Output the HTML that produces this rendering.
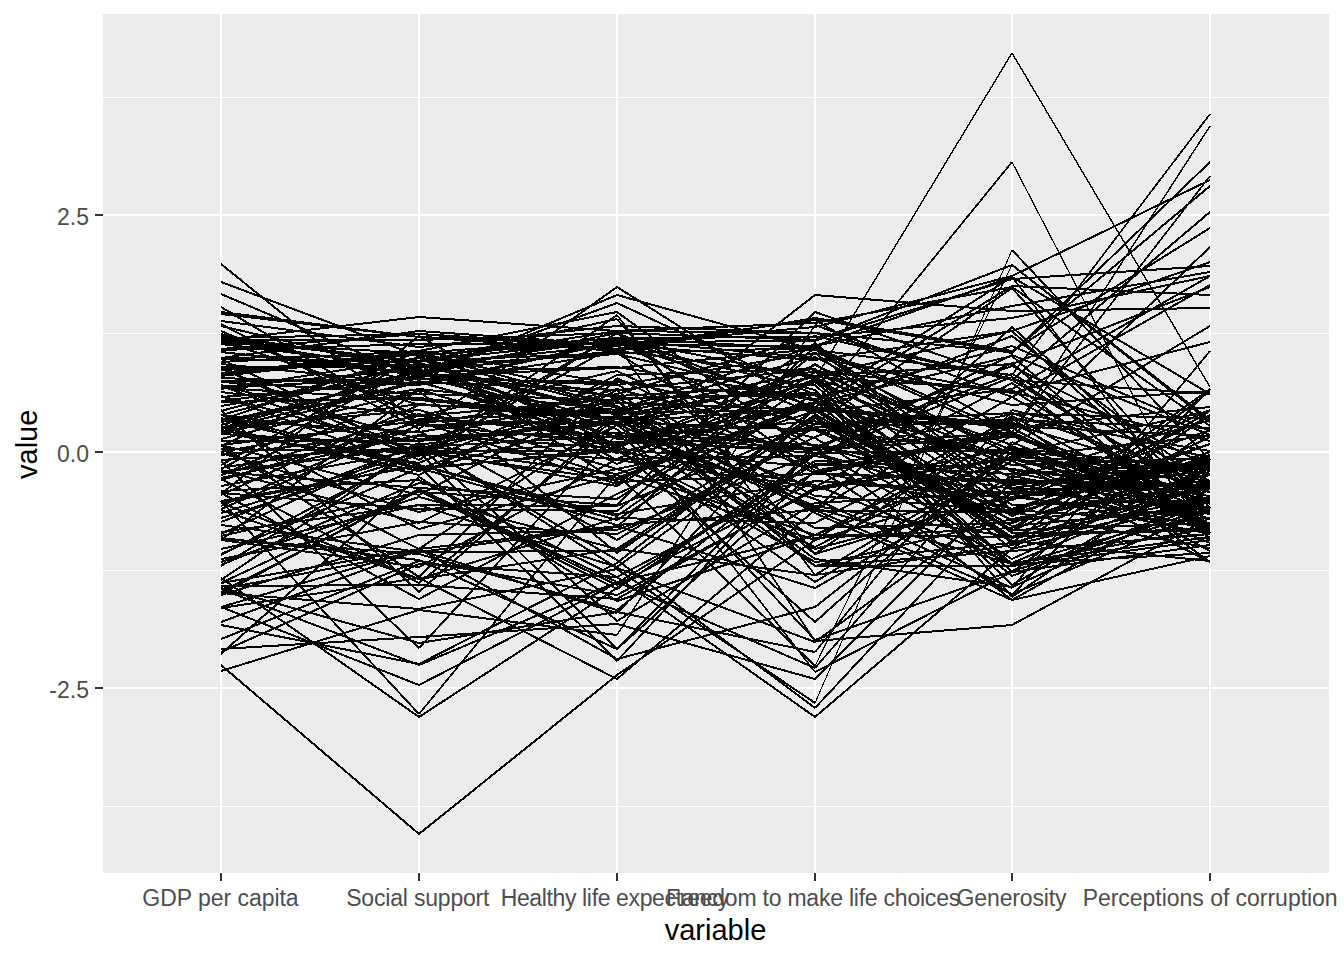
<!DOCTYPE html>
<html><head><meta charset="utf-8"><style>
html,body{margin:0;padding:0;background:#fff;}
svg{display:block;}
text{font-family:"Liberation Sans",sans-serif;}
</style></head><body>
<svg width="1344" height="960" viewBox="0 0 1344 960">
<rect x="0" y="0" width="1344" height="960" fill="#ffffff"/>
<rect x="103" y="14" width="1226" height="859" fill="#EBEBEB"/>
<g fill="#ffffff" shape-rendering="crispEdges">
<rect x="103" y="97" width="1226" height="1"/>
<rect x="103" y="333" width="1226" height="1"/>
<rect x="103" y="570" width="1226" height="1"/>
<rect x="103" y="806" width="1226" height="1"/>
<rect x="103" y="214" width="1226" height="2"/>
<rect x="103" y="451" width="1226" height="2"/>
<rect x="103" y="687" width="1226" height="2"/>
<rect x="220" y="14" width="2" height="859"/>
<rect x="418" y="14" width="2" height="859"/>
<rect x="616" y="14" width="2" height="859"/>
<rect x="814" y="14" width="2" height="859"/>
<rect x="1011" y="14" width="2" height="859"/>
<rect x="1209" y="14" width="2" height="859"/>
</g>
<path fill="#000" shape-rendering="crispEdges" d="M221 347.997 419 332.997 419 335.003 221 350.003ZM419 332.998 617 344.998 617 347.002 419 335.002ZM617 344.991 815 318.991 815 321.009 617 347.009ZM815 318.85 1012 430.85 1012 433.15 815 321.15ZM1208.93 176 1211.07 176 1013.07 432 1010.93 432ZM221 310.992 419 335.992 419 338.008 221 313.008ZM419 335.998 617 349.998 617 352.002 419 338.002ZM617 349.986 815 316.986 815 319.014 617 352.014ZM815 316.986 1012 349.986 1012 352.014 815 319.014ZM1012 349.823 1210 226.823 1210 229.177 1012 352.177ZM221 337 419 333 419 335 221 339ZM419 332.997 617 347.997 617 350.003 419 335.003ZM617 347.989 815 317.989 815 320.011 617 350.011ZM815 317.985 1012 351.985 1012 354.015 815 320.015ZM1012 351.611 1210 160.611 1210 163.389 1012 354.389ZM221 338.993 419 315.993 419 318.007 221 341.007ZM419 315.998 617 329.998 617 332.002 419 318.002ZM617 329.999 815 321.999 815 324.001 617 332.001ZM815 321.983 1012 285.983 1012 288.017 815 324.017ZM1012 285.778 1210 424.778 1210 427.222 1012 288.222ZM221 319.991 419 345.991 419 348.009 221 322.009ZM419 345.994 617 324.994 617 327.006 419 348.006ZM617 324.999 815 331.999 815 334.001 617 327.001ZM815 331.972 1012 378.972 1012 381.028 815 334.028ZM1012 378.689 1210 210.689 1210 213.311 1012 381.311ZM221 333.988 419 364.988 419 367.012 221 336.012ZM419 364.994 617 343.994 617 346.006 419 367.006ZM617 344 815 345 815 347 617 346ZM815 344.98 1012 304.98 1012 307.02 815 347.02ZM1012 304.985 1210 270.985 1210 273.015 1012 307.015ZM221 341.999 419 351.999 419 354.001 221 344.001ZM419 351.997 617 336.997 617 339.003 419 354.003ZM617 337 815 336 815 338 617 339ZM815 335.995 1012 316.995 1012 319.005 815 338.005ZM1012 316.978 1210 274.978 1210 277.022 1012 319.022ZM221 356.991 419 329.991 419 332.009 221 359.009ZM419 329.998 617 343.998 617 346.002 419 332.002ZM617 343.996 815 325.996 815 328.004 617 346.004ZM815 325.967 1012 274.967 1012 277.033 815 328.033ZM1012 274.889 1210 178.889 1210 181.111 1012 277.111ZM221 335.992 419 360.992 419 363.008 221 338.008ZM419 360.988 617 329.988 617 332.012 419 363.012ZM617 330 815 332 815 334 617 332ZM815 331.995 1012 350.995 1012 353.005 815 334.005ZM1012 350.695 1210 184.695 1210 187.305 1012 353.305ZM221 339 419 339 419 341 221 341ZM419 338.999 617 331.999 617 334.001 419 341.001ZM617 331.999 815 338.999 815 341.001 617 334.001ZM815 338.953 1012 277.953 1012 280.047 815 341.047ZM1012 277.998 1210 264.998 1210 267.002 1012 280.002ZM221 362.995 419 382.995 419 385.005 221 365.005ZM419 382.977 617 339.977 617 342.023 419 385.023ZM617 339.866 815 445.866 815 448.134 617 342.134ZM815 445.934 1012 372.934 1012 375.066 815 448.066ZM1012 372.863 1210 479.863 1210 482.137 1012 375.137ZM221 338.994 419 359.994 419 362.006 221 341.006ZM419 359.994 617 338.994 617 341.006 419 362.006ZM617 338.996 815 356.996 815 359.004 617 341.004ZM815 356.984 1012 391.984 1012 394.016 815 359.016ZM1012 391.967 1210 340.967 1210 343.033 1012 394.033ZM221 420.973 419 374.973 419 377.027 221 423.027ZM419 374.999 617 366.999 617 369.001 419 377.001ZM617 366.995 815 347.995 815 350.005 617 369.005ZM815 347.776 1012 486.776 1012 489.224 815 350.224ZM1012 486.992 1210 461.992 1210 464.008 1012 489.008ZM221 312.993 419 335.993 419 338.007 221 315.007ZM419 335.999 617 343.999 617 346.001 419 338.001ZM617 343.997 815 358.997 815 361.003 617 346.003ZM815 358.989 1012 329.989 1012 332.011 815 361.011ZM1012 329.941 1210 260.941 1210 263.059 1012 332.059ZM221 338.988 419 369.988 419 372.012 221 341.012ZM419 369.995 617 349.995 617 352.005 419 372.005ZM617 349.992 815 374.992 815 377.008 617 352.008ZM815 374.998 1012 362.998 1012 365.002 815 377.002ZM1012 362.927 1210 285.927 1210 288.073 1012 365.073ZM221 342.993 419 366.993 419 369.007 221 345.007ZM419 366.989 617 337.989 617 340.011 419 369.011ZM617 337.981 815 376.981 815 379.019 617 340.019ZM815 376.944 1012 443.944 1012 446.056 815 379.056ZM1012 443.833 1210 324.833 1210 327.167 1012 446.167ZM221 280.932 419 354.932 419 357.068 221 283.068ZM419 354.996 617 336.996 617 339.004 419 357.004ZM617 336.998 815 347.998 815 350.002 617 339.002ZM815 347.905 1012 435.905 1012 438.095 815 350.095ZM1012 435.614 1210 245.614 1210 248.386 1012 438.386ZM221 324.973 419 370.973 419 373.027 221 327.027ZM419 371 617 366 617 368 419 373ZM617 365.987 815 397.987 815 400.013 617 368.013ZM815 397.964 1012 344.964 1012 347.036 815 400.036ZM1012 344.912 1210 429.912 1210 432.088 1012 347.088ZM221 349 419 343 419 345 221 351ZM419 343 617 342 617 344 419 345ZM617 341.949 815 405.949 815 408.051 617 344.051ZM815 405.826 1012 284.826 1012 287.174 815 408.174ZM1012 284.999 1210 293.999 1210 296.001 1012 287.001ZM221 366 419 365 419 367 221 368ZM419 364.998 617 352.998 617 355.002 419 367.002ZM617 352.972 815 399.972 815 402.028 617 355.028ZM815 399.702 1012 562.702 1012 565.298 815 402.298ZM1012 562.984 1210 526.984 1210 529.016 1012 565.016ZM221 357 419 354 419 356 221 359ZM419 353.998 617 340.998 617 343.002 419 356.002ZM617 341 815 340 815 342 617 343ZM815 339.928 1012 263.928 1012 266.072 815 342.072ZM1012 263.724 1210 420.724 1210 423.276 1012 266.276ZM221 350.994 419 371.994 419 374.006 221 353.006ZM419 371.98 617 331.98 617 334.02 419 374.02ZM617 331.92 815 412.92 815 415.08 617 334.08ZM815 412.837 1012 529.837 1012 532.163 815 415.163ZM1012 529.769 1210 387.769 1210 390.231 1012 532.231ZM221 413.991 419 439.991 419 442.009 221 416.009ZM419 439.966 617 387.966 617 390.034 419 442.034ZM617 387.97 815 436.97 815 439.03 617 390.03ZM815 436.826 1012 557.826 1012 560.174 815 439.174ZM1012 557.899 1210 466.899 1210 469.101 1012 560.101ZM221 390.993 419 414.993 419 417.007 221 393.007ZM419 414.974 617 369.974 617 372.026 419 417.026ZM617 369.891 815 464.891 815 467.109 617 372.109ZM815 464.988 1012 434.988 1012 437.012 815 467.012ZM1012 434.946 1210 500.946 1210 503.054 1012 437.054ZM221 332.97 419 381.97 419 384.03 221 335.03ZM419 381.989 617 351.989 617 354.011 419 384.011ZM617 351.828 815 472.828 815 475.172 617 354.172ZM815 473 1012 479 1012 481 815 475ZM1012 479 1210 484 1210 486 1012 481ZM221 395.997 419 380.997 419 383.003 221 398.003ZM419 380.999 617 388.999 617 391.001 419 383.001ZM617 388.994 815 367.994 815 370.006 617 391.006ZM815 367.785 1012 503.785 1012 506.215 815 370.215ZM1012 504 1210 499 1210 501 1012 506ZM221 426.959 419 369.959 419 372.041 221 429.041ZM419 369.967 617 420.967 617 423.033 419 372.033ZM617 420.999 815 428.999 815 431.001 617 423.001ZM815 428.901 1012 518.901 1012 521.099 815 431.099ZM1012 518.974 1210 473.974 1210 476.026 1012 521.026ZM221 404.986 419 371.986 419 374.014 221 407.014ZM419 371.993 617 394.993 617 397.007 419 374.007ZM617 394.998 815 383.998 815 386.002 617 397.002ZM815 383.645 1012 563.645 1012 566.355 815 386.355ZM1012 563.961 1210 507.961 1210 510.039 1012 566.039ZM221 476.977 419 433.977 419 436.023 221 479.023ZM419 433.998 617 446.998 617 449.002 419 436.002ZM617 446.916 815 363.916 815 366.084 617 449.084ZM815 363.903 1012 452.903 1012 455.097 815 366.097ZM1012 452.982 1210 490.982 1210 493.018 1012 455.018ZM221 399.992 419 374.992 419 377.008 221 402.008ZM419 374.999 617 383.999 617 386.001 419 377.001ZM617 383.987 815 351.987 815 354.013 617 386.013ZM815 351.752 1012 498.752 1012 501.248 815 354.248ZM1012 498.902 1210 408.902 1210 411.098 1012 501.098ZM221 262.714 419 422.714 419 425.286 221 265.286ZM419 422.989 617 392.989 617 395.011 419 425.011ZM617 392.958 815 334.958 815 337.042 617 395.042ZM815 334.975 1012 378.975 1012 381.025 815 337.025ZM1012 378.998 1210 392.998 1210 395.002 1012 381.002ZM221 329.912 419 414.912 419 417.088 221 332.088ZM419 414.994 617 436.994 617 439.006 419 417.006ZM617 436.996 815 419.996 815 422.004 617 439.004ZM815 419.855 1012 529.855 1012 532.145 815 422.145ZM1012 529.893 1210 435.893 1210 438.107 1012 532.107ZM221 292.914 419 376.914 419 379.086 221 295.086ZM419 376.916 617 293.916 617 296.084 419 379.084ZM617 293.962 815 348.962 815 351.038 617 296.038ZM815 348.992 1012 373.992 1012 376.008 815 351.008ZM1208.96 114 1211.04 114 1013.04 375 1010.96 375ZM221 383.963 419 437.963 419 440.037 221 386.037ZM419 437.997 617 422.997 617 425.003 419 440.003ZM617 422.91 815 508.91 815 511.09 617 425.09ZM815 508.635 1012 325.635 1012 328.365 815 511.365ZM1012 325.659 1210 502.659 1210 505.341 1012 328.341ZM221 360.998 419 349.998 419 352.002 221 363.002ZM419 349.981 617 310.981 617 313.019 419 352.019ZM617 310.764 815 454.764 815 457.236 617 313.236ZM815 454.986 1012 487.986 1012 490.014 815 457.014ZM1012 488 1210 488 1210 490 1012 490ZM221 432.966 419 380.966 419 383.034 221 435.034ZM419 380.962 617 435.962 617 438.038 419 383.038ZM617 435.989 815 406.989 815 409.011 617 438.011ZM815 406.824 1012 528.824 1012 531.176 815 409.176ZM1012 528.999 1210 521.999 1210 524.001 1012 531.001ZM221 368 419 364 419 366 221 370ZM419 363.882 617 462.882 617 465.118 419 366.118ZM617 462.918 815 380.918 815 383.082 617 465.082ZM815 380.923 1012 459.923 1012 462.077 815 383.077ZM1012 459.918 1210 541.918 1210 544.082 1012 462.082ZM221 371.994 419 349.994 419 352.006 221 374.006ZM419 349.986 617 382.986 617 385.014 419 352.014ZM617 382.812 815 509.812 815 512.188 617 385.188ZM815 510 1012 511 1012 513 815 512ZM1012 510.984 1210 546.984 1210 549.016 1012 513.016ZM221 470.992 419 445.992 419 448.008 221 473.008ZM419 445.998 617 434.998 617 437.002 419 448.002ZM617 434.998 815 447.998 815 450.002 617 437.002ZM815 447.845 1012 561.845 1012 564.155 815 450.155ZM1012 561.918 1210 479.918 1210 482.082 1012 564.082ZM221 504.908 419 417.908 419 420.092 221 507.092ZM419 418 617 412 617 414 419 420ZM617 412 815 409 815 411 617 414ZM815 408.997 1012 424.997 1012 427.003 815 411.003ZM1012 424.999 1210 434.999 1210 437.001 1012 427.001ZM221 380 419 378 419 380 221 382ZM419 378 617 381 617 383 419 380ZM617 380.996 815 397.996 815 400.004 617 383.004ZM815 397.824 1012 519.824 1012 522.176 815 400.176ZM1012 519.994 1210 497.994 1210 500.006 1012 522.006ZM221 339.949 419 403.949 419 406.051 221 342.051ZM419 403.999 617 411.999 617 414.001 419 406.001ZM617 411.978 815 369.978 815 372.022 617 414.022ZM815 369.994 1012 390.994 1012 393.006 815 372.006ZM1012 390.97 1210 439.97 1210 442.03 1012 393.03ZM221 492.721 419 334.721 419 337.279 221 495.279ZM419 334.849 617 447.849 617 450.151 419 337.151ZM617 447.733 815 293.733 815 296.267 617 450.267ZM815 293.997 1012 309.997 1012 312.003 815 296.003ZM1012 310 1210 307 1210 309 1012 312ZM221 305.836 419 423.836 419 426.164 221 308.164ZM419 424 617 421 617 423 419 426ZM617 420.99 815 392.99 815 395.01 617 423.01ZM815 392.937 1012 463.937 1012 466.063 815 395.063ZM1012 463.999 1210 456.999 1210 459.001 1012 466.001ZM221 418.988 419 387.988 419 390.012 221 421.012ZM419 387.994 617 408.994 617 411.006 419 390.006ZM617 408.949 815 344.949 815 347.051 617 411.051ZM815 344.94 1012 275.94 1012 278.06 815 347.06ZM1010.93 277 1013.07 277 1211.07 533 1208.93 533ZM221 358 419 361 419 363 221 360ZM419 360.977 617 317.977 617 320.023 419 363.023ZM615.829 319 618.171 319 816.171 554 813.829 554ZM815 552.955 1012 492.955 1012 495.045 815 555.045ZM1012 492.98 1210 532.98 1210 535.02 1012 495.02ZM221 450.984 419 414.984 419 417.016 221 453.016ZM419 414.996 617 397.996 617 400.004 419 417.004ZM617 398 815 392 815 394 617 400ZM815 391.821 1012 514.821 1012 517.179 815 394.179ZM1012 514.936 1210 442.936 1210 445.064 1012 517.064ZM221 470.997 419 486.997 419 489.003 221 473.003ZM419 486.998 617 497.998 617 500.002 419 489.002ZM617 497.812 815 370.812 815 373.188 617 500.188ZM815 370.924 1012 448.924 1012 451.076 815 373.076ZM1012 448.993 1210 472.993 1210 475.007 1012 451.007ZM221 374.994 419 352.994 419 355.006 221 377.006ZM419 352.966 617 404.966 617 407.034 419 355.034ZM617 404.863 815 511.863 815 514.137 617 407.137ZM815 511.907 1012 598.907 1012 601.093 815 514.093ZM1012 598.976 1210 554.976 1210 557.024 1012 601.024ZM221 368.999 419 359.999 419 362.001 221 371.001ZM419 359.999 617 351.999 617 354.001 419 362.001ZM617 352 815 347 815 349 617 354ZM815 346.818 1012 470.818 1012 473.182 815 349.182ZM1012 470.98 1210 510.98 1210 513.02 1012 473.02ZM221 394.962 419 449.962 419 452.038 221 397.038ZM419 449.971 617 401.971 617 404.029 419 452.029ZM617 401.999 815 408.999 815 411.001 617 404.001ZM815 408.799 1012 539.799 1012 542.201 815 411.201ZM1012 539.995 1210 559.995 1210 562.005 1012 542.005ZM221 386.998 419 375.998 419 378.002 221 389.002ZM419 375.972 617 422.972 617 425.028 419 378.028ZM617 422.918 815 504.918 815 507.082 617 425.082ZM815 504.988 1012 535.988 1012 538.012 815 507.012ZM1012 535.98 1210 495.98 1210 498.02 1012 538.02ZM221 350.993 419 373.993 419 376.007 221 353.007ZM419 373.936 617 301.936 617 304.064 419 376.064ZM617 301.897 815 393.897 815 396.103 617 304.103ZM815 393.731 1012 547.731 1012 550.269 815 396.269ZM1012 547.793 1210 413.793 1210 416.207 1012 550.207ZM221 401 419 397 419 399 221 403ZM419 396.994 617 417.994 617 420.006 419 399.006ZM617 417.978 815 375.978 815 378.022 617 420.022ZM815 375.998 1012 388.998 1012 391.002 815 378.002ZM1012 388.823 1210 511.823 1210 514.177 1012 391.177ZM221 467.87 419 363.87 419 366.13 221 470.13ZM419 363.969 617 413.969 617 416.031 419 366.031ZM617 413.986 815 380.986 815 383.014 617 416.014ZM815 380.74 1012 531.74 1012 534.26 815 383.26ZM1012 532 1210 530 1210 532 1012 534ZM221 357.886 419 454.886 419 457.114 221 360.114ZM419 454.772 617 313.772 617 316.228 419 457.228ZM615.952 315 618.048 315 816.048 575 813.952 575ZM815 573.834 1012 455.834 1012 458.166 815 576.166ZM1012 455.962 1210 510.962 1210 513.038 1012 458.038ZM221 366.912 419 451.912 419 454.088 221 369.088ZM419 451.831 617 331.831 617 334.169 419 454.169ZM617 331.889 815 427.889 815 430.111 617 334.111ZM815 427.992 1012 452.992 1012 455.008 815 430.008ZM1012 452.977 1210 409.977 1210 412.023 1012 455.023ZM221 385.996 419 367.996 419 370.004 221 388.004ZM419 367.918 617 449.918 617 452.082 419 370.082ZM617 449.985 815 483.985 815 486.015 617 452.015ZM815 483.924 1012 561.924 1012 564.076 815 486.076ZM1012 561.991 1210 535.991 1210 538.009 1012 564.009ZM221 387.988 419 356.988 419 359.012 221 390.012ZM419 356.92 617 437.92 617 440.08 419 359.08ZM617 437.998 815 451.998 815 454.002 617 440.002ZM815 451.96 1012 507.96 1012 510.04 815 454.04ZM1012 507.947 1210 442.947 1210 445.053 1012 510.053ZM221 366.897 419 458.897 419 461.103 221 369.103ZM419 458.812 617 331.812 617 334.188 419 461.188ZM617 331.781 815 469.781 815 472.219 617 334.219ZM815 469.981 1012 430.981 1012 433.019 815 472.019ZM1012 430.891 1210 525.891 1210 528.109 1012 433.109ZM221 484.984 419 448.984 419 451.016 221 487.016ZM419 448.984 617 484.984 617 487.016 419 451.016ZM617 484.825 815 362.825 815 365.175 617 487.175ZM815 362.813 1012 488.813 1012 491.187 815 365.187ZM1012 488.995 1210 507.995 1210 510.005 1012 491.005ZM221 373.994 419 351.994 419 354.006 221 376.006ZM419 351.974 617 396.974 617 399.026 419 354.026ZM617 397 815 394 815 396 617 399ZM815 393.749 1012 541.749 1012 544.251 815 396.251ZM1012 541.739 1210 389.739 1210 392.261 1012 544.261ZM221 463.858 419 354.858 419 357.142 221 466.142ZM419 354.904 617 443.904 617 446.096 419 357.096ZM617 443.977 815 400.977 815 403.023 617 446.023ZM815 400.942 1012 468.942 1012 471.058 815 403.058ZM1012 468.995 1210 487.995 1210 490.005 1012 471.005ZM221 440 419 440 419 442 221 442ZM419 439.995 617 420.995 617 423.005 419 442.005ZM617 420.998 815 406.998 815 409.002 617 423.002ZM815 406.805 1012 535.805 1012 538.195 815 409.195ZM1012 535.999 1210 526.999 1210 529.001 1012 538.001ZM221 458.998 419 445.998 419 448.002 221 461.002ZM419 445.998 617 457.998 617 460.002 419 448.002ZM617 458 815 455 815 457 617 460ZM815 454.894 1012 361.894 1012 364.106 815 457.106ZM1012 361.662 1210 537.662 1210 540.338 1012 364.338ZM221 507.914 419 423.914 419 426.086 221 510.086ZM419 423.996 617 441.996 617 444.004 419 426.004ZM617 441.778 815 580.778 815 583.222 617 444.222ZM815 580.826 1012 459.826 1012 462.174 815 583.174ZM1012 459.877 1210 560.877 1210 563.123 1012 462.123ZM221 418.943 419 350.943 419 353.057 221 421.057ZM419 350.804 617 480.804 617 483.196 419 353.196ZM617 480.999 815 472.999 815 475.001 617 483.001ZM815 472.98 1012 432.98 1012 435.02 815 475.02ZM1012 432.899 1210 523.899 1210 526.101 1012 435.101ZM221 380.998 419 392.998 419 395.002 221 383.002ZM419 393 617 399 617 401 419 395ZM617 398.695 815 564.695 815 567.305 617 401.305ZM815 565 1012 565 1012 567 815 567ZM1012 564.991 1210 538.991 1210 541.009 1012 567.009ZM221 426.996 419 408.996 419 411.004 221 429.004ZM419 408.957 617 467.957 617 470.043 419 411.043ZM617 467.979 815 426.979 815 429.021 617 470.021ZM815 426.909 1012 512.909 1012 515.091 815 429.091ZM1012 512.884 1210 414.884 1210 417.116 1012 515.116ZM221 478.958 419 420.958 419 423.042 221 481.042ZM419 420.952 617 482.952 617 485.048 419 423.048ZM617 482.772 815 341.772 815 344.228 617 485.228ZM815 341.689 1012 508.689 1012 511.311 815 344.311ZM1012 508.967 1210 457.967 1210 460.033 1012 511.033ZM221 516.951 419 453.951 419 456.049 221 519.049ZM419 453.998 617 440.998 617 443.002 419 456.002ZM617 440.999 815 448.999 815 451.001 617 443.001ZM815 448.997 1012 434.997 1012 437.003 815 451.003ZM1012 434.965 1210 487.965 1210 490.035 1012 437.035ZM221 413.966 419 361.966 419 364.034 221 416.034ZM419 361.969 617 411.969 617 414.031 419 364.031ZM617 411.817 815 536.817 815 539.183 617 414.183ZM815 536.999 1012 526.999 1012 529.001 815 539.001ZM1012 526.838 1210 409.838 1210 412.162 1012 529.162ZM221 386.998 419 398.998 419 401.002 221 389.002ZM419 398.996 617 416.996 617 419.004 419 401.004ZM617 416.856 815 526.856 815 529.144 617 419.144ZM815 527 1012 522 1012 524 815 529ZM1012 521.943 1210 453.943 1210 456.057 1012 524.057ZM221 508.941 419 577.941 419 580.059 221 511.059ZM419 577.954 617 516.954 617 519.046 419 580.046ZM617 517 815 522 815 524 617 519ZM815 521.867 1012 416.867 1012 419.133 815 524.133ZM1012 416.986 1210 449.986 1210 452.014 1012 419.014ZM221 322.868 419 427.868 419 430.132 221 325.132ZM419 427.769 617 285.769 617 288.231 419 430.231ZM617 285.817 815 410.817 815 413.183 617 288.183ZM815 410.993 1012 387.993 1012 390.007 815 413.007ZM1012 387.849 1210 274.849 1210 277.151 1012 390.151ZM221 376.999 419 383.999 419 386.001 221 379.001ZM419 383.977 617 340.977 617 343.023 419 386.023ZM617 340.971 815 388.971 815 391.029 617 343.029ZM815 388.639 1012 570.639 1012 573.361 815 391.361ZM1012 570.991 1210 543.991 1210 546.009 1012 573.009ZM221 429.991 419 402.991 419 405.009 221 432.009ZM419 402.998 617 416.998 617 419.002 419 405.002ZM617 416.801 815 547.801 815 550.199 617 419.199ZM815 547.966 1012 495.966 1012 498.034 815 550.034ZM1012 495.994 1210 517.994 1210 520.006 1012 498.006ZM221 384.939 419 454.939 419 457.061 221 387.061ZM419 454.851 617 342.851 617 345.149 419 457.149ZM616.095 344 617.905 344 815.905 641 814.095 641ZM815 639.997 1012 623.997 1012 626.003 815 642.003ZM1012 623.863 1210 516.863 1210 519.137 1012 626.137ZM221 552.91 419 466.91 419 469.09 221 555.09ZM419 466.996 617 449.996 617 452.004 419 469.004ZM617 449.889 815 545.889 815 548.111 617 452.111ZM815 545.876 1012 444.876 1012 447.124 815 548.124ZM1012 444.918 1210 526.918 1210 529.082 1012 447.082ZM221 418.998 419 430.998 419 433.002 221 421.002ZM419 430.988 617 399.988 617 402.012 419 433.012ZM617 399.698 815 564.698 815 567.302 617 402.302ZM815 564.972 1012 517.972 1012 520.028 815 567.028ZM1012 517.983 1210 480.983 1210 483.017 1012 520.017ZM221 394.934 419 467.934 419 470.066 221 397.066ZM419 467.938 617 396.938 617 399.062 419 470.062ZM617 396.884 815 494.884 815 497.116 617 399.116ZM815 494.997 1012 508.997 1012 511.003 815 497.003ZM1012 508.998 1210 521.998 1210 524.002 1012 511.002ZM221 427.971 419 379.971 419 382.029 221 430.029ZM419 379.949 617 443.949 617 446.051 419 382.051ZM617 443.947 815 378.947 815 381.053 617 446.053ZM815 378.802 1012 508.802 1012 511.198 815 381.198ZM1012 508.966 1210 456.966 1210 459.034 1012 511.034ZM221 428.979 419 469.979 419 472.021 221 431.021ZM419 469.963 617 415.963 617 418.037 419 472.037ZM615.929 417 618.071 417 816.071 672 813.929 672ZM815 670.879 1012 570.879 1012 573.121 815 673.121ZM1012 570.766 1210 427.766 1210 430.234 1012 573.234ZM221 477.87 419 581.87 419 584.13 221 480.13ZM419 581.717 617 422.717 617 425.283 419 584.283ZM617 422.992 815 447.992 815 450.008 617 425.008ZM815 447.74 1012 598.74 1012 601.26 815 450.26ZM1012 598.854 1210 487.854 1210 490.146 1012 601.146ZM221 425.971 419 473.971 419 476.029 221 428.029ZM419 473.88 617 373.88 617 376.12 419 476.12ZM617 374 815 368 815 370 617 376ZM813.796 369 816.204 369 1013.2 597 1010.8 597ZM1012 595.787 1210 459.787 1210 462.213 1012 598.213ZM221 416.967 419 467.967 419 470.033 221 419.033ZM419 467.995 617 447.995 617 450.005 419 470.005ZM617 447.996 815 465.996 815 468.004 617 450.004ZM815 465.807 1012 593.807 1012 596.193 815 468.193ZM1208.65 389 1211.35 389 1013.35 595 1010.65 595ZM221 431.989 419 461.989 419 464.011 221 434.011ZM419 461.916 617 378.916 617 381.084 419 464.084ZM617 378.976 815 422.976 815 425.024 617 381.024ZM815 423 1012 419 1012 421 815 425ZM1012 418.999 1210 426.999 1210 429.001 1012 421.001ZM221 432.998 419 443.998 419 446.002 221 435.002ZM419 443.989 617 414.989 617 417.011 419 446.011ZM617 414.936 815 486.936 815 489.064 617 417.064ZM815 486.989 1012 457.989 1012 460.011 815 489.011ZM1012 457.966 1210 509.966 1210 512.034 1012 460.034ZM221 466.987 419 434.987 419 437.013 221 469.013ZM419 435 617 432 617 434 419 437ZM617 431.998 815 443.998 815 446.002 617 434.002ZM815 443.962 1012 498.962 1012 501.038 815 446.038ZM1012 498.939 1210 428.939 1210 431.061 1012 501.061ZM221 499.984 419 464.984 419 467.016 221 502.016ZM419 464.596 617 659.596 617 662.404 419 467.404ZM813.695 448 816.305 448 618.305 661 615.695 661ZM815 446.997 1012 430.997 1012 433.003 815 449.003ZM1012 430.884 1210 528.884 1210 531.116 1012 433.116ZM221 538.742 419 387.742 419 390.258 221 541.258ZM419 387.949 617 451.949 617 454.051 419 390.051ZM617 451.969 815 401.969 815 404.031 617 454.031ZM815 401.972 1012 354.972 1012 357.028 815 404.028ZM1012 354.679 1210 525.679 1210 528.321 1012 357.321ZM221 443.969 419 493.969 419 496.031 221 446.031ZM419 493.868 617 388.868 617 391.132 419 496.132ZM617 388.702 815 552.702 815 555.298 617 391.298ZM815 552.785 1012 416.785 1012 419.215 815 555.215ZM1012 416.764 1210 560.764 1210 563.236 1012 419.236ZM221 444.904 419 355.904 419 358.096 221 447.096ZM419 355.873 617 458.873 617 461.127 419 358.127ZM617 458.991 815 485.991 815 488.009 617 461.009ZM815 485.869 1012 381.869 1012 384.131 815 488.131ZM1012 381.755 1210 528.755 1210 531.245 1012 384.245ZM221 493.902 419 403.902 419 406.098 221 496.098ZM419 403.999 617 410.999 617 413.001 419 406.001ZM617 410.962 815 355.962 815 358.038 617 413.038ZM815 355.883 1012 453.883 1012 456.117 815 358.117ZM1012 453.989 1210 482.989 1210 485.011 1012 456.011ZM221 448 419 451 419 453 221 450ZM419 450.99 617 478.99 617 481.01 419 453.01ZM617 478.929 815 402.929 815 405.071 617 481.071ZM1010.87 162 1013.13 162 816.128 404 813.872 404ZM1011.31 162 1012.69 162 1210.69 544 1209.31 544ZM221 473.954 419 412.954 419 415.046 221 476.046ZM419 412.949 617 476.949 617 479.051 419 415.051ZM617 476.929 815 400.929 815 403.071 617 479.071ZM815 400.816 1012 275.816 1012 278.184 815 403.184ZM1012 275.838 1210 392.838 1210 395.162 1012 278.162ZM221 669.954 419 608.954 419 611.046 221 672.046ZM419 608.992 617 633.992 617 636.008 419 611.008ZM814.136 325 815.864 325 617.864 635 616.136 635ZM815 323.935 1012 395.935 1012 398.065 815 326.065ZM1012 395.851 1210 283.851 1210 286.149 1012 398.149ZM221 537.997 419 552.997 419 555.003 221 540.003ZM419 552.961 617 608.961 617 611.039 419 555.039ZM617 608.724 815 451.724 815 454.276 617 611.276ZM815 452 1012 449 1012 451 815 454ZM1012 448.941 1210 517.941 1210 520.059 1012 451.059ZM221 409.965 419 356.965 419 359.035 221 412.035ZM419 356.969 617 406.969 617 409.031 419 359.031ZM617 406.88 815 506.88 815 509.12 617 409.12ZM815 506.96 1012 562.96 1012 565.04 815 509.04ZM1012 562.998 1210 551.998 1210 554.002 1012 565.002ZM221 564.836 419 446.836 419 449.164 221 567.164ZM419 446.991 617 472.991 617 475.009 419 449.009ZM617 472.951 815 409.951 815 412.049 617 475.049ZM815 409.93 1012 334.93 1012 337.07 815 412.07ZM1012 334.748 1210 483.748 1210 486.252 1012 337.252ZM221 423.965 419 370.965 419 373.035 221 426.035ZM419 370.959 617 427.959 617 430.041 419 373.041ZM615.681 429 618.319 429 816.319 640 813.681 640ZM815 638.94 1012 569.94 1012 572.06 815 641.06ZM1012 569.955 1210 509.955 1210 512.045 1012 572.045ZM221 413.965 419 466.965 419 469.035 221 416.035ZM419 466.959 617 523.959 617 526.041 419 469.041ZM617 523.997 815 508.997 815 511.003 617 526.003ZM815 508.913 1012 592.913 1012 595.087 815 511.087ZM1012 592.916 1210 509.916 1210 512.084 1012 595.084ZM221 511.954 419 450.954 419 453.046 221 514.046ZM419 451 617 449 617 451 419 453ZM617 448.851 815 560.851 815 563.149 617 451.149ZM815 560.995 1012 541.995 1012 544.005 815 563.005ZM1012 541.961 1210 485.961 1210 488.039 1012 544.039ZM221 437.971 419 389.971 419 392.029 221 440.029ZM419 389.708 617 551.708 617 554.292 419 392.292ZM617 551.787 815 415.787 815 418.213 617 554.213ZM815 415.857 1012 524.857 1012 527.143 815 418.143ZM1012 524.995 1210 505.995 1210 508.005 1012 527.005ZM221 408.642 419 590.642 419 593.358 221 411.358ZM419 590.662 617 414.662 617 417.338 419 593.338ZM617 414.985 815 448.985 815 451.015 617 417.015ZM815 448.89 1012 353.89 1012 356.11 815 451.11ZM1012 353.921 1210 433.921 1210 436.079 1012 356.079ZM221 536.994 419 558.994 419 561.006 221 539.006ZM419 558.904 617 647.904 617 650.096 419 561.096ZM813.631 445 816.369 445 618.369 649 615.631 649ZM815 443.98 1012 483.98 1012 486.02 815 446.02ZM1012 483.993 1210 459.993 1210 462.007 1012 486.007ZM221 523.991 419 550.991 419 553.009 221 526.009ZM419 551 617 550 617 552 419 553ZM617 549.82 815 425.82 815 428.18 617 552.18ZM815 426 1012 421 1012 423 815 428ZM1012 420.854 1210 531.854 1210 534.146 1012 423.146ZM221 563.918 419 481.918 419 484.082 221 566.082ZM419 481.988 617 512.988 617 515.012 419 484.012ZM617 512.986 815 479.986 815 482.014 617 515.014ZM815 479.998 1012 491.998 1012 494.002 815 482.002ZM1012 491.998 1210 479.998 1210 482.002 1012 494.002ZM221 491.997 419 507.997 419 510.003 221 494.003ZM419 508 617 510 617 512 419 510ZM617 509.721 815 351.721 815 354.279 617 512.279ZM815 351.966 1012 403.966 1012 406.034 815 354.034ZM1012 403.998 1210 389.998 1210 392.002 1012 406.002ZM221 447.88 419 547.88 419 550.12 221 450.12ZM419 547.795 617 414.795 617 417.205 419 550.205ZM617 414.766 815 557.766 815 560.234 617 417.234ZM815 557.99 1012 585.99 1012 588.01 815 560.01ZM1012 585.908 1210 498.908 1210 501.092 1012 588.092ZM221 443.798 419 575.798 419 578.202 221 446.202ZM615.594 378 618.406 378 420.406 577 417.594 577ZM617 376.891 815 471.891 815 474.109 617 379.109ZM815 471.999 1012 480.999 1012 483.001 815 474.001ZM1012 480.971 1210 528.971 1210 531.029 1012 483.029ZM221 606.989 419 576.989 419 579.011 221 609.011ZM419 576.877 617 677.877 617 680.123 419 579.123ZM617 677.685 815 508.685 815 511.315 617 680.315ZM815 508.847 1012 395.847 1012 398.153 815 511.153ZM1012 395.849 1210 508.849 1210 511.151 1012 398.151ZM221 501.929 419 577.929 419 580.071 221 504.071ZM419 577.989 617 547.989 617 550.011 419 580.011ZM617 547.801 815 416.801 815 419.199 617 550.199ZM815 416.829 1012 536.829 1012 539.171 815 419.171ZM1012 536.966 1210 484.966 1210 487.034 1012 539.034ZM221 538.991 419 565.991 419 568.009 221 541.009ZM419 565.861 617 457.861 617 460.139 419 568.139ZM617 457.921 815 377.921 815 380.079 617 460.079ZM815 377.881 1012 476.881 1012 479.119 815 380.119ZM1012 476.958 1210 418.958 1210 421.042 1012 479.042ZM221 443.993 419 419.993 419 422.007 221 446.007ZM419 420 617 422 617 424 419 422ZM617 421.972 815 374.972 815 377.028 617 424.028ZM815 374.974 1012 329.974 1012 332.026 815 377.026ZM1012 329.642 1210 511.642 1210 514.358 1012 332.358ZM221 420.863 419 527.863 419 530.137 221 423.137ZM419 527.963 617 473.963 617 476.037 419 530.037ZM617 473.947 815 538.947 815 541.053 617 476.053ZM815 538.959 1012 481.959 1012 484.041 815 541.041ZM1012 481.997 1210 466.997 1210 469.003 1012 484.003ZM221 578.793 419 444.793 419 447.207 221 581.207ZM419 444.665 617 619.665 617 622.335 419 447.335ZM617 619.836 815 501.836 815 504.164 617 622.164ZM815 501.998 1012 490.998 1012 493.002 815 504.002ZM1012 490.997 1210 505.997 1210 508.003 1012 493.003ZM221 453.993 419 429.993 419 432.007 221 456.007ZM419 429.858 617 538.858 617 541.142 419 432.142ZM617 538.817 815 413.817 815 416.183 617 541.183ZM815 413.709 1012 574.709 1012 577.291 815 416.291ZM1012 574.927 1210 497.927 1210 500.073 1012 577.073ZM221 534.976 419 490.976 419 493.024 221 537.024ZM419 490.998 617 503.998 617 506.002 419 493.002ZM617 503.604 815 310.604 815 313.396 617 506.396ZM815 310.942 1012 378.942 1012 381.058 815 313.058ZM1012 378.836 1210 496.836 1210 499.164 1012 381.164ZM221 592.868 419 487.868 419 490.132 221 595.132ZM419 487.895 617 580.895 617 583.105 419 490.105ZM617 580.972 815 533.972 815 536.028 617 583.028ZM815 533.924 1012 455.924 1012 458.076 815 536.076ZM1012 455.994 1210 434.994 1210 437.006 1012 458.006ZM221 451.957 419 510.957 419 513.043 221 454.043ZM419 510.977 617 467.977 617 470.023 419 513.023ZM617 467.946 815 533.946 815 536.054 617 470.054ZM815 534 1012 536 1012 538 815 536ZM1012 535.921 1210 455.921 1210 458.079 1012 538.079ZM221 620.936 419 548.936 419 551.064 221 623.064ZM419 548.951 617 611.951 617 614.049 419 551.049ZM813.639 408 816.361 408 618.361 613 615.639 613ZM815 406.995 1012 426.995 1012 429.005 815 409.005ZM1012 426.994 1210 405.994 1210 408.006 1012 429.006ZM221 547.976 419 503.976 419 506.024 221 550.024ZM419 504 617 505 617 507 419 506ZM617 504.918 815 422.918 815 425.082 617 507.082ZM815 422.785 1012 286.785 1012 289.215 815 425.215ZM1010.74 288 1013.26 288 1211.26 508 1208.74 508ZM221 530.991 419 503.991 419 506.009 221 533.009ZM419 503.952 617 565.952 617 568.048 419 506.048ZM617 565.766 815 422.766 815 425.234 617 568.234ZM815 422.998 1012 411.998 1012 414.002 815 425.002ZM1012 411.943 1210 479.943 1210 482.057 1012 414.057ZM221 532.899 419 441.899 419 444.101 221 535.101ZM419 441.817 617 566.817 617 569.183 419 444.183ZM617 566.932 815 640.932 815 643.068 617 569.068ZM815 640.758 1012 495.758 1012 498.242 815 643.242ZM1012 495.991 1210 468.991 1210 471.009 1012 498.009ZM221 593.955 419 533.955 419 536.045 221 596.045ZM419 534 617 529 617 531 419 536ZM617 528.929 815 452.929 815 455.071 617 531.071ZM815 452.98 1012 412.98 1012 415.02 815 455.02ZM1012 413 1210 417 1210 419 1012 415ZM221 459.625 419 646.625 419 649.375 221 462.375ZM615.702 434 618.298 434 420.298 648 417.702 648ZM617 432.947 815 497.947 815 500.053 617 435.053ZM815 497.903 1012 586.903 1012 589.097 815 500.097ZM1208.84 351 1211.16 351 1013.16 588 1010.84 588ZM221 468.965 419 521.965 419 524.035 221 471.035ZM419 521.884 617 423.884 617 426.116 419 524.116ZM617 423.772 815 564.772 815 567.228 617 426.228ZM815 564.997 1012 549.997 1012 552.003 815 567.003ZM1012 549.996 1210 532.996 1210 535.004 1012 552.004ZM221 501.982 419 463.982 419 466.018 221 504.018ZM419 463.967 617 514.967 617 517.033 419 466.033ZM617 514.784 815 377.784 815 380.216 617 517.216ZM1011.19 53 1012.81 53 815.813 379 814.187 379ZM1011.2 53 1012.8 53 1210.8 387 1209.2 387ZM221 581.985 419 547.985 419 550.015 221 584.015ZM419 547.856 617 657.856 617 660.144 419 550.144ZM617 657.966 815 605.966 815 608.034 617 660.034ZM815 605.728 1012 450.728 1012 453.272 815 608.272ZM1012 450.967 1210 501.967 1210 504.033 1012 453.033ZM221 652.659 419 475.659 419 478.341 221 655.341ZM419 475.82 617 599.82 617 602.18 419 478.18ZM617 599.946 815 533.946 815 536.054 617 602.054ZM815 533.881 1012 434.881 1012 437.119 815 536.119ZM1012 434.931 1210 509.931 1210 512.069 1012 437.069ZM221 491.866 419 597.866 419 600.134 221 494.134ZM419 597.868 617 492.868 617 495.132 419 600.132ZM617 492.899 815 401.899 815 404.101 617 495.101ZM815 401.959 1012 458.959 1012 461.041 815 404.041ZM1012 458.999 1210 468.999 1210 471.001 1012 461.001ZM221 637.925 419 559.925 419 562.075 221 640.075ZM419 559.985 617 593.985 617 596.015 419 562.015ZM617 593.868 815 488.868 815 491.132 617 596.132ZM815 488.986 1012 455.986 1012 458.014 815 491.014ZM1012 455.999 1210 463.999 1210 466.001 1012 458.001ZM221 590.877 419 489.877 419 492.123 221 593.123ZM419 489.884 617 587.884 617 590.116 419 492.116ZM617 587.793 815 453.793 815 456.207 617 590.207ZM815 453.924 1012 375.924 1012 378.076 815 456.076ZM1012 375.817 1210 500.817 1210 503.183 1012 378.183ZM221 576.778 419 715.778 419 718.222 221 579.222ZM419 715.806 617 586.806 617 589.194 419 718.194ZM617 586.812 815 459.812 815 462.188 617 589.188ZM815 459.999 1012 467.999 1012 470.001 815 462.001ZM1012 467.991 1210 494.991 1210 497.009 1012 470.009ZM221 520.925 419 442.925 419 445.075 221 523.075ZM419 442.841 617 558.841 617 561.159 419 445.159ZM617 558.752 815 706.752 815 709.248 617 561.248ZM1010.69 497 1013.31 497 816.311 708 813.689 708ZM1012 495.997 1210 479.997 1210 482.003 1012 498.003ZM221 473.912 419 388.912 419 391.088 221 476.088ZM419 388.959 617 445.959 617 448.041 419 391.041ZM617 445.665 815 620.665 815 623.335 617 448.335ZM815 620.659 1012 444.659 1012 447.341 815 623.341ZM1012 444.868 1210 549.868 1210 552.132 1012 447.132ZM221 605.925 419 683.925 419 686.075 221 608.075ZM419 683.875 617 581.875 617 584.125 419 686.125ZM617 581.833 815 462.833 815 465.167 617 584.167ZM815 462.999 1012 472.999 1012 475.001 815 465.001ZM1012 472.998 1210 461.998 1210 464.002 1012 475.002ZM221 585 419 584 419 586 221 587ZM419 583.998 617 597.998 617 600.002 419 586.002ZM617 597.854 815 486.854 815 489.146 617 600.146ZM815 486.98 1012 446.98 1012 449.02 815 489.02ZM1012 446.994 1210 467.994 1210 470.006 1012 449.006ZM221 553.873 419 450.873 419 453.127 221 556.127ZM419 450.589 617 647.589 617 650.411 419 453.411ZM617 647.655 815 469.655 815 472.345 617 650.345ZM815 469.976 1012 512.976 1012 515.024 815 472.024ZM1012 512.952 1210 450.952 1210 453.048 1012 515.048ZM221 489.998 419 478.998 419 481.002 221 492.002ZM419 478.886 617 575.886 617 578.114 419 481.114ZM617 575.775 815 715.775 815 718.225 617 578.225ZM815 715.686 1012 547.686 1012 550.314 815 718.314ZM1012 547.972 1210 500.972 1210 503.028 1012 550.028ZM221 605.958 419 547.958 419 550.042 221 608.042ZM419 547.993 617 524.993 617 527.007 419 550.007ZM617 524.952 815 586.952 815 589.048 617 527.048ZM815 586.85 1012 474.85 1012 477.15 815 589.15ZM1012 474.982 1210 512.982 1210 515.018 1012 477.018ZM221 581.895 419 488.895 419 491.105 221 584.105ZM419 488.891 617 583.891 617 586.109 419 491.109ZM617 583.87 815 479.87 815 482.13 617 586.13ZM815 479.996 1012 496.996 1012 499.004 815 482.004ZM1012 496.986 1210 463.986 1210 466.014 1012 499.014ZM221 587.929 419 663.929 419 666.071 221 590.071ZM419 663.916 617 580.916 617 583.084 419 666.084ZM617 580.91 815 666.91 815 669.09 617 583.09ZM1010.78 442 1013.22 442 816.216 668 813.784 668ZM1012 440.914 1210 524.914 1210 527.086 1012 443.086ZM221 418.974 419 463.974 419 466.026 221 421.026ZM419 463.962 617 518.962 617 521.038 419 466.038ZM617 518.812 815 391.812 815 394.188 617 521.188ZM815 391.604 1012 583.604 1012 586.396 815 394.396ZM1012 583.846 1210 469.846 1210 472.154 1012 586.154ZM221 623.981 419 662.981 419 665.019 221 626.019ZM419 662.877 617 561.877 617 564.123 419 665.123ZM617 561.73 815 406.73 815 409.27 617 564.27ZM815 406.997 1012 422.997 1012 425.003 815 409.003ZM1012 422.957 1210 481.957 1210 484.043 1012 425.043ZM221 591.997 419 607.997 419 610.003 221 594.003ZM419 607.98 617 567.98 617 570.02 419 610.02ZM617 567.793 815 701.793 815 704.207 617 570.207ZM1011.43 250 1012.57 250 815.566 703 814.434 703ZM1010.67 250 1013.33 250 1211.33 460 1208.67 460ZM221 650.906 419 562.906 419 565.094 221 653.094ZM419 562.998 617 575.998 617 578.002 419 565.002ZM617 575.87 815 471.87 815 474.13 617 578.13ZM815 471.974 1012 426.974 1012 429.026 815 474.026ZM1012 426.87 1210 530.87 1210 533.13 1012 429.13ZM219.695 501 222.305 501 420.305 714 417.695 714ZM615.856 474 618.144 474 420.144 714 417.856 714ZM617 472.607 815 664.607 815 667.393 617 475.393ZM1011.35 265 1012.65 265 815.647 666 814.353 666ZM1012 263.73 1210 418.73 1210 421.27 1012 266.27ZM221 587.983 419 550.983 419 553.017 221 590.017ZM419 550.992 617 525.992 617 528.008 419 553.008ZM617 525.649 815 345.649 815 348.351 617 528.351ZM815 345.909 1012 431.909 1012 434.091 815 348.091ZM1209.13 126 1210.87 126 1012.87 433 1011.13 433ZM221 560.947 419 495.947 419 498.053 221 563.053ZM419 495.966 617 547.966 617 550.034 419 498.034ZM617 547.991 815 573.991 815 576.009 617 550.009ZM815 573.988 1012 543.988 1012 546.012 815 576.012ZM1012 543.973 1210 497.973 1210 500.027 1012 546.027ZM221 557.983 419 520.983 419 523.017 221 560.017ZM419 520.998 617 532.998 617 535.002 419 523.002ZM617 532.886 815 435.886 815 438.114 617 535.114ZM815 435.937 1012 364.937 1012 367.063 815 438.063ZM1012 364.877 1210 465.877 1210 468.123 1012 367.123ZM221 586.962 419 641.962 419 644.038 221 589.038ZM419 641.988 617 610.988 617 613.012 419 644.012ZM617 610.98 815 650.98 815 653.02 617 613.02ZM1010.87 410 1013.13 410 816.128 652 813.872 652ZM1012 408.971 1210 456.971 1210 459.029 1012 411.029ZM221 663.685 419 832.685 419 835.315 221 666.315ZM419 832.717 617 673.717 617 676.283 419 835.283ZM617 673.79 815 538.79 815 541.21 617 676.21ZM815 538.818 1012 414.818 1012 417.182 815 541.182ZM1012 414.861 1210 522.861 1210 525.139 1012 417.139ZM221 647.998 419 635.998 419 638.002 221 650.002ZM419 635.998 617 622.998 617 625.002 419 638.002ZM617 622.962 815 677.962 815 680.038 617 625.038ZM815 677.586 1012 480.586 1012 483.414 815 680.414ZM1012 481 1210 486 1210 488 1012 483Z"/>
<g fill="#333333" shape-rendering="crispEdges">
<rect x="95" y="214" width="8" height="2"/>
<rect x="95" y="451" width="8" height="2"/>
<rect x="95" y="687" width="8" height="2"/>
<rect x="220" y="873" width="2" height="8"/>
<rect x="418" y="873" width="2" height="8"/>
<rect x="616" y="873" width="2" height="8"/>
<rect x="814" y="873" width="2" height="8"/>
<rect x="1011" y="873" width="2" height="8"/>
<rect x="1209" y="873" width="2" height="8"/>
</g>
<g fill="#4D4D4D" font-size="23px">
<text x="89" y="224.6" text-anchor="end">2.5</text>
<text x="89" y="461.6" text-anchor="end">0.0</text>
<text x="89" y="697.6" text-anchor="end">-2.5</text>
<text x="220.45" y="906" text-anchor="middle" textLength="156.33" lengthAdjust="spacing">GDP per capita</text>
<text x="417.83" y="906" text-anchor="middle" textLength="143.21" lengthAdjust="spacing">Social support</text>
<text x="614.9" y="906" text-anchor="middle" textLength="228.52" lengthAdjust="spacing">Healthy life expectancy</text>
<text x="813.05" y="906" text-anchor="middle" textLength="294.31" lengthAdjust="spacing">Freedom to make life choices</text>
<text x="1011.55" y="906" text-anchor="middle" textLength="109.92" lengthAdjust="spacing">Generosity</text>
<text x="1210.15" y="906" text-anchor="middle" textLength="255.0" lengthAdjust="spacing">Perceptions of corruption</text>
</g>
<g fill="#000000" font-size="29px">
<text x="715.5" y="940" text-anchor="middle">variable</text>
<text transform="translate(37,444.3) rotate(-90)" text-anchor="middle">value</text>
</g>
</svg>
</body></html>
